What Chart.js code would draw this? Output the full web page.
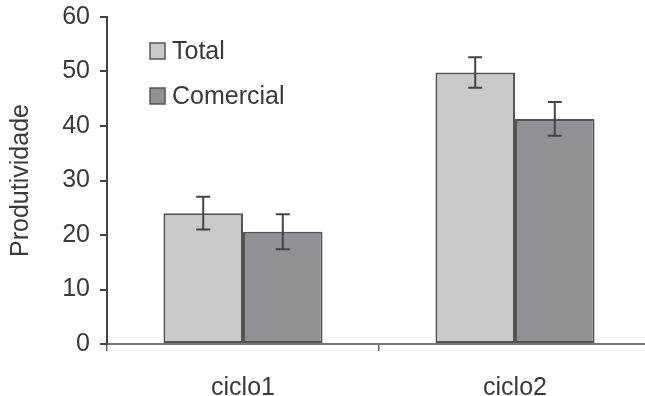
<!DOCTYPE html>
<html>
<head>
<meta charset="utf-8">
<script src="https://cdn.jsdelivr.net/npm/chart.js@4"></script>
<style>
  html, body { margin: 0; padding: 0; background: #fff; overflow: hidden; }
  #wrap { width: 645px; height: 396px; overflow: hidden; }
</style>
</head>
<body>
<div id="wrap"><canvas id="chart" width="651" height="396"></canvas></div>
<script>
const categories = ['ciclo1', 'ciclo2']
const totalValues = [24.0, 49.8]
const totalErrors = [3.0, 2.8]
const comercialValues = [20.6, 41.3]
const comercialErrors = [3.2, 3.1]
const yTicks = [0, 10, 20, 30, 40, 50, 60]

const textColor = '#3a3a3a'
const fontFamily = '"Liberation Sans", Arial, sans-serif'

// error bars drawn on top of each bar, using the y scale
const errorBars = {
  id: 'errorBars',
  afterDatasetsDraw(chart) {
    const ctx = chart.ctx
    const yScale = chart.scales.y
    ctx.save()
    ctx.strokeStyle = '#444'
    ctx.lineWidth = 2
    chart.data.datasets.forEach((ds, i) => {
      const meta = chart.getDatasetMeta(i)
      meta.data.forEach((bar, j) => {
        const v = ds.data[j]
        const e = ds.errors[j]
        const yTop = yScale.getPixelForValue(v + e)
        const yBot = yScale.getPixelForValue(v - e)
        ctx.beginPath()
        ctx.moveTo(bar.x, yTop)
        ctx.lineTo(bar.x, yBot)
        ctx.moveTo(bar.x - 7, yTop)
        ctx.lineTo(bar.x + 7, yTop)
        ctx.moveTo(bar.x - 7, yBot)
        ctx.lineTo(bar.x + 7, yBot)
        ctx.stroke()
      })
    })
    ctx.restore()
  }
}

// legend inside the plot, top left
const insideLegend = {
  id: 'insideLegend',
  afterDraw(chart) {
    const ctx = chart.ctx
    ctx.save()
    ctx.font = '25px ' + fontFamily
    ctx.textBaseline = 'middle'
    chart.data.datasets.forEach((ds, i) => {
      const y = 51 + i * 45
      ctx.fillStyle = ds.backgroundColor
      ctx.fillRect(150, y - 8, 15, 16)
      ctx.strokeStyle = '#555'
      ctx.lineWidth = 1.5
      ctx.strokeRect(150, y - 8, 15, 16)
      ctx.fillStyle = textColor
      ctx.fillText(ds.label, 172, y + 1)
    })
    ctx.restore()
  }
}

new Chart(document.getElementById('chart'), {
  type: 'bar',
  data: {
    labels: categories,
    datasets: [
      {
        label: 'Total',
        data: totalValues,
        errors: totalErrors,
        backgroundColor: '#c8c9cb',
        borderColor: '#555',
        borderWidth: 2,
        borderSkipped: false,
        categoryPercentage: 0.585,
        barPercentage: 1.0
      },
      {
        label: 'Comercial',
        data: comercialValues,
        errors: comercialErrors,
        backgroundColor: '#909194',
        borderColor: '#555',
        borderWidth: 2,
        borderSkipped: false,
        categoryPercentage: 0.585,
        barPercentage: 1.0
      }
    ]
  },
  options: {
    responsive: false,
    animation: false,
    devicePixelRatio: 1,
    layout: { padding: { top: 17, right: 0, bottom: 0, left: 0 } },
    plugins: {
      legend: { display: false },
      tooltip: { enabled: false }
    },
    scales: {
      x: {
        grid: {
          offset: true,
          drawOnChartArea: false,
          drawTicks: true,
          tickLength: 7,
          color: '#666',
          lineWidth: 1.5
        },
        border: { display: true, color: '#777', width: 2 },
        ticks: {
          color: textColor,
          padding: 22,
          font: { family: fontFamily, size: 25 }
        },
        afterFit(scale) { scale.height = 52 }
      },
      y: {
        min: 0,
        max: 60,
        afterBuildTicks(scale) { scale.ticks = yTicks.map(v => ({ value: v })) },
        grid: {
          drawOnChartArea: false,
          drawTicks: true,
          tickLength: 7,
          color: '#444',
          lineWidth: 2
        },
        border: { display: true, color: '#444', width: 2 },
        ticks: {
          color: textColor,
          padding: 10,
          font: { family: fontFamily, size: 25 }
        },
        title: {
          display: true,
          text: 'Produtividade',
          color: textColor,
          padding: { top: 6, bottom: 6 },
          font: { family: fontFamily, size: 25 }
        },
        afterFit(scale) {
          scale.width = 107
          scale.paddingTop = 0
          scale.paddingBottom = 0
        }
      }
    }
  },
  plugins: [errorBars, insideLegend]
})
</script>
</body>
</html>
